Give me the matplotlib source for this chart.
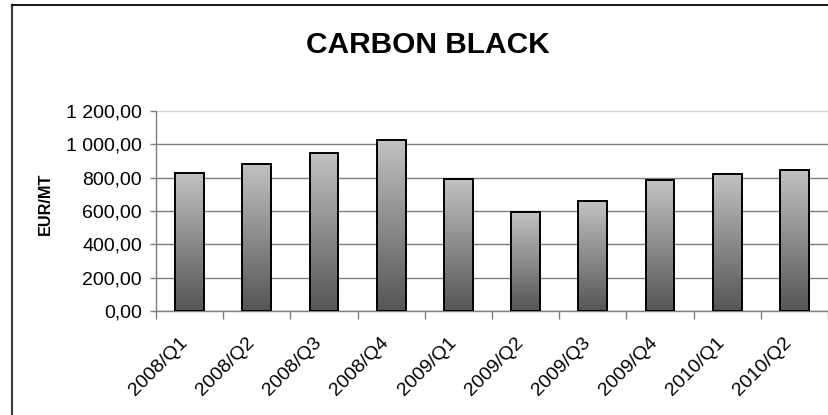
import numpy as np
import matplotlib
matplotlib.use('Agg')
import matplotlib.pyplot as plt
import matplotlib.transforms as mtransforms
from matplotlib.lines import Line2D

plt.rcParams['font.family'] = ['Liberation Sans', 'DejaVu Sans']

quarters = ['2008/Q1', '2008/Q2', '2008/Q3', '2008/Q4', '2009/Q1',
            '2009/Q2', '2009/Q3', '2009/Q4', '2010/Q1', '2010/Q2']
price = [830, 884, 948, 1028, 794, 594, 658, 784, 822, 848]
yticks = [0, 200, 400, 600, 800, 1000, 1200]
ytick_labels = ['0,00', '200,00', '400,00', '600,00', '800,00', '1 000,00', '1 200,00']

W, H = 829, 415
fig = plt.figure(figsize=(W/100, H/100), dpi=100)
ax = fig.add_axes([156/W, 1-311/H, (828-156)/W, 200/H])

x = np.arange(len(quarters))
bars = ax.bar(x, price, width=0.43, facecolor='none', edgecolor='black', linewidth=1.4, zorder=3)

# vertical grey gradient inside every bar, light at the top
grad = np.linspace(0, 1, 256).reshape(-1, 1)
cmap = matplotlib.colors.LinearSegmentedColormap.from_list('g', ['#555555', '#c2c2c2'])
for b in bars:
    x0, w, h = b.get_x(), b.get_width(), b.get_height()
    im = ax.imshow(grad, cmap=cmap, origin='lower', aspect='auto',
                   extent=(x0, x0 + w, 0, h), zorder=2)
    im.set_clip_path(b)

ax.set_xlim(-0.5, len(quarters) - 0.5)
ax.set_ylim(0, 1200)
ax.set_yticks(yticks)
ax.set_yticklabels(ytick_labels, fontsize=14)
ax.yaxis.grid(True, color='#7f7f7f', linewidth=1, zorder=0)
ax.set_axisbelow(True)
ax.yaxis.get_gridlines()[-1].set_color('#d4d4d4')

ax.set_xticks(x)
ax.set_xticklabels(quarters, fontsize=14, rotation=45, ha='right',
                   va='center', rotation_mode='anchor')
ax.set_xticks(np.arange(len(quarters) + 1) - 0.5, minor=True)
ax.tick_params(axis='x', which='major', length=0, pad=21)
ax.tick_params(axis='x', which='minor', length=6, width=1, color='#7f7f7f', direction='out')
ax.tick_params(axis='y', length=4, width=1, color='#7f7f7f', direction='out', pad=6)
shift = mtransforms.ScaledTranslation(-5/100, 0, fig.dpi_scale_trans)
for lab in ax.get_xticklabels():
    lab.set_transform(lab.get_transform() + shift)

for s in ['top', 'right']:
    ax.spines[s].set_visible(False)
for s in ['left', 'bottom']:
    ax.spines[s].set_color('#7f7f7f')
    ax.spines[s].set_linewidth(1)

fig.text(428/W, 1-53/H, 'CARBON BLACK', fontsize=21.5, fontweight='bold',
         ha='center', va='baseline')
fig.text(45/W, 1-204/H, 'EUR/MT', fontsize=11.7, fontweight='bold',
         rotation=90, ha='center', va='center')

# outer chart frame (left and top edges only are visible)
fig.add_artist(Line2D([12/W, 12/W], [0, 1-5/H], transform=fig.transFigure,
                      color='#404040', linewidth=1.6))
fig.add_artist(Line2D([12/W, 1], [1-5/H, 1-5/H], transform=fig.transFigure,
                      color='black', linewidth=1.3))

fig.savefig('out.png', dpi=100)
